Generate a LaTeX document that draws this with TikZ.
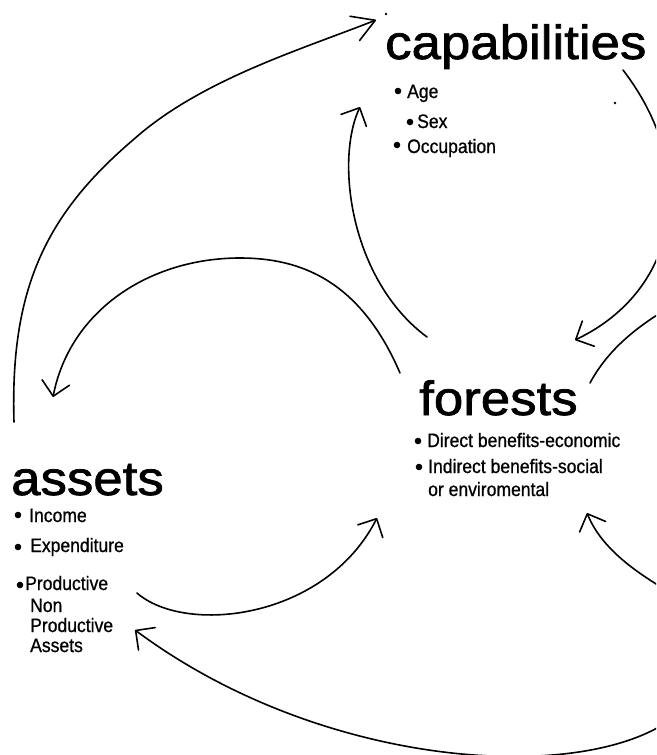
\documentclass[tikz,border=0pt]{standalone}
\usepackage{fontspec}
\setmainfont{Liberation Sans}
\newfontfamily\titlefont[FakeStretch=1.1,FakeBold=1.5]{Liberation Sans}
\newfontfamily\itemfont[FakeStretch=0.9,FakeBold=0.8]{Liberation Sans}
\usetikzlibrary{arrows.meta}
\begin{document}
\begin{tikzpicture}[x=1pt,y=-1pt,
  title/.style={anchor=base west, inner sep=0pt, font=\titlefont\fontsize{48}{48}\selectfont},
  item/.style={anchor=base west, inner sep=0pt, font=\itemfont\fontsize{19.5}{19.5}\selectfont},
  link/.style={line width=1.6pt, line cap=round, -{Straight Barb[round,length=14pt,width=28pt]}},
  toplink/.style={line width=1.6pt, line cap=round, -{Straight Barb[round,length=22pt,width=26pt]}},
  plain/.style={line width=1.6pt, line cap=round},
  speck/.style={fill=black},
  dot/.style={fill=black}
]
\useasboundingbox (0,0) rectangle (656,755);
\clip (0,0) rectangle (656,755);

% titles
\node[title] (cap) at (385,59) {capabilities};
\node[title] (for) at (419,415) {forests};
\node[title] (ass) at (11,495) {assets};

% capabilities items
\node[item] (age) at (407,98) {Age};
\node[item] (sex) at (417,128) {Sex};
\node[item] (occ) at (407,153) {Occupation};

% forests items
\node[item] (dir) at (427,447) {Direct benefits-economic};
\node[item] (ind) at (428,473) {Indirect benefits-social};
\node[item] (env) at (428,496) {or enviromental};

% assets items
\node[item] (inc) at (29,522) {Income};
\node[item] (exp) at (30,552) {Expenditure};
\node[item] (pro) at (25,590) {Productive};
\node[item] (non) at (30,612) {Non};
\node[item] (pro2) at (30,632) {Productive};
\node[item] (aset) at (30,652) {Assets};

% bullets
\foreach \p in {(398,91),(410,122),(397,145),(418,441),(419,467),(18,515),(18,547),(20,585)}
  \fill[dot] \p circle (3.3pt);

% connector end points
\coordinate (a1) at (14,422);   \coordinate (b1) at (376,20);
\coordinate (a2) at (623,70);   \coordinate (b2) at (575,340);
\coordinate (a3) at (590,383);  \coordinate (b3) at (672,306);
\coordinate (a4) at (675,595);  \coordinate (b4) at (587,513);
\coordinate (a5) at (680,712);  \coordinate (b5) at (135,630);
\coordinate (a6) at (137,593);  \coordinate (b6) at (377,518);
\coordinate (a7) at (400,373);  \coordinate (b7) at (53,397);
\coordinate (a8) at (427,337);  \coordinate (b8) at (360,107);

% connectors
\draw[toplink] (a1) .. controls (10,290) and (45,215) .. (133,140)
               .. controls (200,80) and (300,50) .. (b1);
\draw[link] (a2) .. controls (700,170) and (680,290) .. (b2);
\draw[plain] (a3) .. controls (605,355) and (630,330) .. (b3);
\draw[link] (a4) .. controls (630,570) and (600,545) .. (b4);
\draw[link] (a5) .. controls (600,785) and (330,775) .. (b5);
\draw[link] (a6) .. controls (185,635) and (325,620) .. (b6);
\draw[link] (a7) .. controls (360,280) and (300,258) .. (240,258)
            .. controls (150,258) and (70,310) .. (b7);
\draw[link] (a8) .. controls (350,280) and (335,160) .. (b8);

% specks
\fill[speck] (386,14) circle (1.3pt);
\fill[speck] (615,103) circle (1.3pt);
\end{tikzpicture}
\end{document}
